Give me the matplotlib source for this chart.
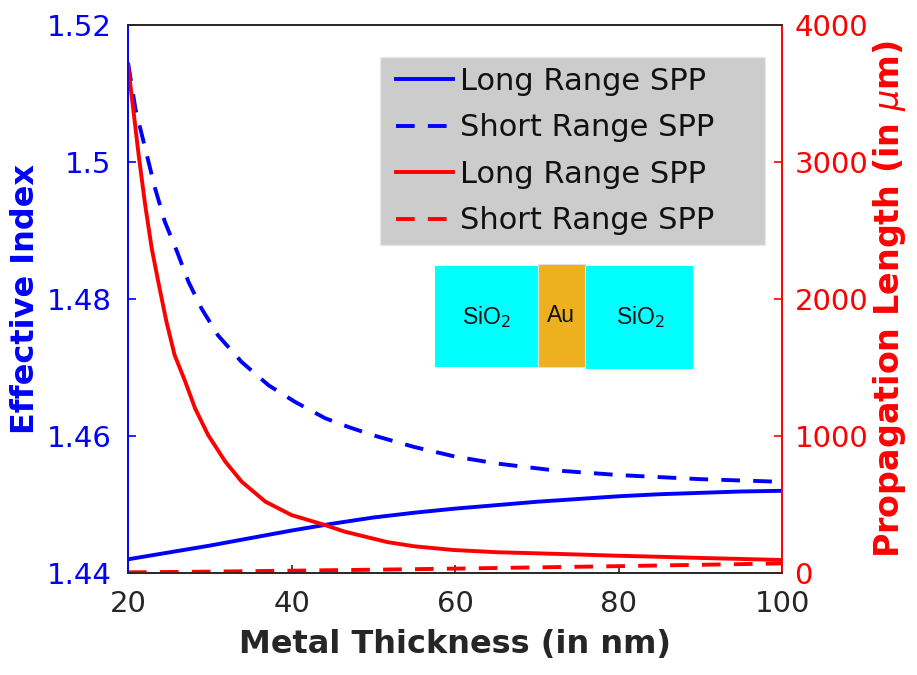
import numpy as np
import matplotlib
matplotlib.use('Agg')
import matplotlib.pyplot as plt
from matplotlib.patches import Rectangle

plt.rcParams['font.family'] = ['DejaVu Sans']
plt.rcParams['mathtext.fontset'] = 'dejavusans'

# metal thickness (nm) and effective index of the two modes
t_lr = [20, 25, 30, 35, 40, 45, 50, 55, 60, 65, 70, 75, 80, 85, 90, 95, 100]
neff_lr = [1.4420, 1.4430, 1.4440, 1.4451, 1.4462, 1.4472, 1.4481, 1.4488, 1.4494, 1.4499,
           1.4504, 1.4508, 1.4512, 1.4515, 1.4517, 1.4519, 1.4520]
t_sr = [20, 20.9, 22.1, 23.3, 24.5, 26.0, 27.4, 29.0, 31.0, 33.9, 37.2, 40.4, 44.1, 47, 50, 55,
        60, 65, 72, 80, 90, 97.7, 100]
neff_sr = [1.5145, 1.5078, 1.5020, 1.4962, 1.4913, 1.4869, 1.4825, 1.4786, 1.4747, 1.4708,
           1.4674, 1.4650, 1.4626, 1.4613, 1.4601, 1.4584, 1.4570, 1.4560, 1.4550, 1.4543,
           1.4537, 1.4534, 1.4533]

# propagation length (um)
t_lp = [20.0, 21.3, 22.1, 22.9, 23.7, 24.7, 25.7, 27.0, 28.2, 29.8, 31.9, 33.9, 36.8, 40.0, 44.1,
        46.5, 51.7, 55, 59.8, 65, 72.8, 80, 85.9, 90, 100]
lp_lr = [3708, 3051, 2686, 2370, 2126, 1834, 1591, 1397, 1202, 1007, 813, 667, 521, 423, 350,
         302, 226, 195, 168, 152, 139, 126, 117, 110, 95]
t_lp_sr = [20, 30, 40, 50, 60, 70, 80, 90, 100]
lp_sr = [5, 10, 17, 24, 32, 41, 50, 60, 70]

blue = '#0000ff'
red = '#ff0000'
grey = '#262626'

fig = plt.figure(figsize=(9.17, 6.75), dpi=100)
ax = fig.add_axes([0.1396, 0.1511, 0.7132, 0.8119])
ax2 = ax.twinx()

lw = 2.8
dash = (4.8, 3.4)
l1, = ax.plot(t_lr, neff_lr, color=blue, lw=lw, label='Long Range SPP')
l2, = ax.plot(t_sr, neff_sr, color=blue, lw=lw, dashes=dash, label='Short Range SPP')
l3, = ax2.plot(t_lp, lp_lr, color=red, lw=lw, label='Long Range SPP')
l4, = ax2.plot(t_lp_sr, lp_sr, color=red, lw=lw, dashes=dash, label='Short Range SPP')

ax.set_xlim(20, 100)
ax.set_ylim(1.44, 1.52)
ax2.set_ylim(0, 4000)
ax.set_xticks([20, 40, 60, 80, 100])
ax.set_yticks([1.44, 1.46, 1.48, 1.5, 1.52])
ax.set_yticklabels(['1.44', '1.46', '1.48', '1.5', '1.52'])
ax2.set_yticks([0, 1000, 2000, 3000, 4000])

for a in (ax, ax2):
    a.spines['top'].set_color(grey)
    a.spines['bottom'].set_color(grey)
    a.spines['left'].set_color(blue)
    a.spines['right'].set_color(red)
    for s in a.spines.values():
        s.set_linewidth(1.2)

ax.tick_params(axis='x', direction='in', colors=grey, labelsize=21, length=6, width=1.2, pad=12)
ax.tick_params(axis='y', direction='in', colors=blue, labelsize=21, length=6, width=1.2, pad=12)
ax2.tick_params(axis='y', direction='in', colors=red, labelsize=21, length=6, width=1.2, pad=9)

ax.set_xlabel('Metal Thickness (in nm)', fontsize=23, fontweight='bold', color=grey, labelpad=8)
ax.set_ylabel('Effective Index', fontsize=23, fontweight='bold', color=blue, labelpad=4)
ax2.set_ylabel(r'Propagation Length (in $\mu$m)', fontsize=24, fontweight='bold', color=red,
               labelpad=2)

# grey legend box, wider than the entries
ax2.add_patch(Rectangle((380 / 917, 1 - 245 / 675), 385 / 917, 188 / 675,
                        transform=fig.transFigure, facecolor='#cccccc', edgecolor='#e8e8e8',
                        lw=1.0, zorder=4.5, clip_on=False))
leg = ax2.legend(handles=[l1, l2, l3, l4], loc='upper left', bbox_to_anchor=(396 / 917, 1 - 67 / 675),
                 bbox_transform=fig.transFigure, fontsize=22, frameon=False, handlelength=1.85,
                 handletextpad=0.25, labelspacing=0.57, borderpad=0, borderaxespad=0)
leg.set_zorder(6)
for t in leg.get_texts():
    t.set_color('#111111')

# layer stack sketch: SiO2 / Au / SiO2
ins = fig.add_axes([435 / 917, 1 - 369 / 675, (693 - 435) / 917, (369 - 264) / 675])
ins.set_xlim(0, 258)
ins.set_ylim(0, 105)
ins.axis('off')
ins.add_patch(Rectangle((0, 2), 103, 101, facecolor='#00ffff', edgecolor='none'))
ins.add_patch(Rectangle((103, 2), 47, 103, facecolor='#edb120', edgecolor='#e0e0e0', lw=0.8))
ins.add_patch(Rectangle((151, 0), 107, 103, facecolor='#00ffff', edgecolor='none'))
txt = dict(fontsize=16.5, family='Liberation Sans', color='#111111', ha='center', va='center')
ins.text(51, 52, r'SiO$_2$', **txt)
ins.text(126, 54, 'Au', **txt)
ins.text(205, 52, r'SiO$_2$', **txt)

fig.savefig('out.png', dpi=100)
